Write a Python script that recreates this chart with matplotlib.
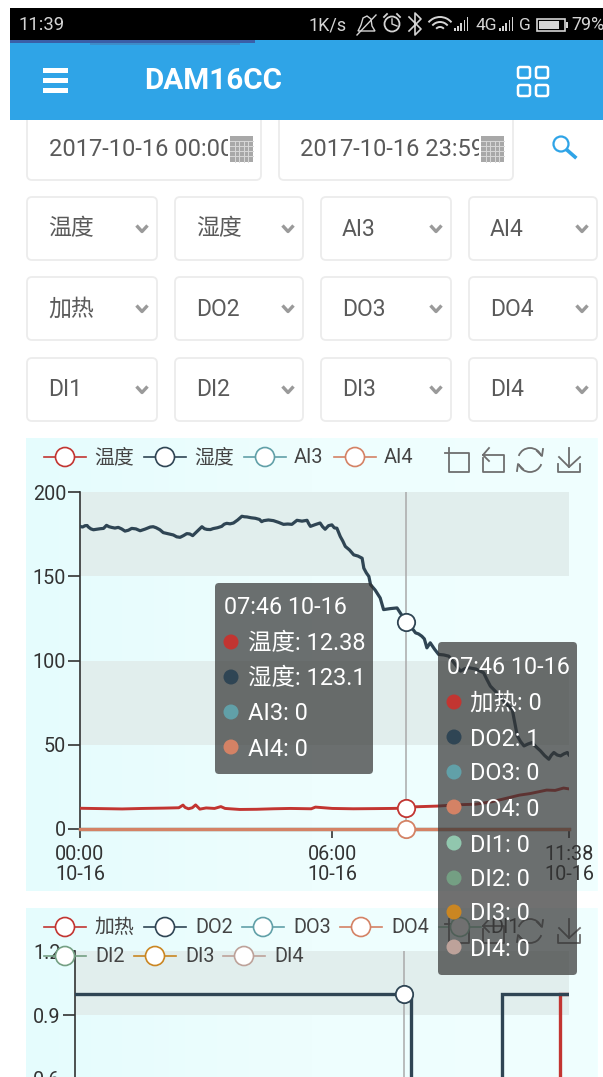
import matplotlib
matplotlib.use('Agg')
import matplotlib.pyplot as plt
import numpy as np
from matplotlib.patches import FancyBboxPatch, Rectangle, Circle, Arc, Polygon
from matplotlib.lines import Line2D
from matplotlib.colors import LinearSegmentedColormap

plt.rcParams['font.family'] = ['Roboto', 'Noto Sans CJK SC', 'DejaVu Sans']

# ---------- data ----------
hum_h = [0, .06, .12, .17, .2, .26, .32, .4, .48, .56, .63, .69, .75, .83, .91, .99, 1.07, 1.15, 1.23, 1.33, 1.43,
         1.55, 1.67, 1.74, 1.81, 1.9, 1.98, 2.1, 2.22, 2.3, 2.38, 2.46, 2.54, 2.61, 2.68, 2.8, 2.9, 2.96, 3.02, 3.1,
         3.17, 3.27, 3.37, 3.43, 3.49, 3.57, 3.65, 3.75, 3.85, 3.91, 3.97, 4.07, 4.17, 4.27, 4.32, 4.37, 4.48, 4.6,
         4.72, 4.84, 4.94, 5.04, 5.1, 5.16, 5.28, 5.4, 5.44, 5.48, 5.6, 5.71, 5.77, 5.83, 5.91, 5.99, 6.05, 6.11, 6.19,
         6.25, 6.31, 6.41, 6.51, 6.61, 6.71, 6.75, 6.81, 6.87, 6.91, 7.02, 7.14, 7.22, 7.38, 7.54, 7.65, 7.76, 7.87,
         7.98, 8.05, 8.13, 8.19, 8.25, 8.33, 8.43, 8.53, 8.65, 8.77, 8.91, 9.05, 9.15, 9.25, 9.42, 9.6, 9.68, 9.76,
         9.88, 10, 10.14, 10.28, 10.34, 10.4, 10.48, 10.56, 10.65, 10.75, 10.85, 10.95, 11.05, 11.15, 11.21, 11.27,
         11.35, 11.43, 11.51, 11.59, 11.63]
hum_v = [179.6, 179.2, 180, 180.1, 179.2, 178.1, 177.6, 177.9, 178.2, 178.4, 180.2, 179.4, 179, 178.6, 179, 178.1, 176.8,
         177.3, 178.4, 178.1, 177, 178, 179.2, 179.4, 178.8, 177.6, 175.9, 175.2, 174.5, 173.4, 173.1, 174.1, 175.3,
         175.1, 174.1, 177, 179.4, 178.2, 177.8, 177.7, 178.3, 178.8, 179.6, 180.9, 181.4, 181.1, 181.6, 183.4, 185.6,
         185.3, 185.2, 184.7, 184.4, 183.7, 182.4, 183, 183.4, 183, 182, 180.8, 181, 180.8, 182, 183.2, 182.7, 183.2,
         181.2, 179.6, 180.7, 181.6, 179.4, 177.9, 180, 180.5, 178.7, 178.5, 173.6, 170.9, 167.7, 165.6, 162.7, 162,
         160.7, 154.8, 152, 149.9, 145, 141.8, 137.1, 130.2, 130.8, 131.2, 127, 123.1, 120.1, 116.4, 115.8, 114.4,
         112.8, 107.5, 110.5, 106.8, 103.6, 103.3, 102.6, 98.2, 93.7, 95.1, 95.7, 94.9, 92.7, 88.6, 84.8, 81.7, 78,
         74.3, 71, 63, 55.2, 51.8, 49.3, 50.4, 51.3, 48.7, 46.4, 43.6, 41.4, 43.8, 45.4, 43.9, 43.4, 44.6, 45.4, 44]

tmp_h = [0, .5, 1, 1.5, 2, 2.35, 2.45, 2.5, 2.58, 2.67, 2.75, 2.85, 3, 3.2, 3.35, 3.45, 3.8, 4.2, 4.6, 5, 5.5, 5.6,
         6, 6.5, 7, 7.4, 7.76, 8, 8.5, 9, 9.4, 9.8, 10.1, 10.45, 10.7, 11.1, 11.3, 11.5, 11.63]
tmp_v = [12.3, 12.1, 11.9, 12.2, 12.4, 12.6, 14.2, 12.8, 12.0, 12.6, 14.3, 11.8, 12.5, 12.2, 13.3, 12.2, 11.6, 11.7,
         12.0, 12.2, 12.0, 13.0, 12.2, 12.0, 12.1, 12.2, 12.38, 13.2, 13.6, 14.4, 14.7, 16.2, 18.0, 20.1, 21.0, 23.1,
         22.9, 24.3, 23.8]
ai_h = [0, 11.63]
ai3_v = [0, 0]
ai4_v = [0, 0]

do2_h = [0, 7.92, 7.92, 10.05, 10.05, 11.63]
do2_v = [1, 1, 0, 0, 1, 1]
heat_h = [0, 11.43, 11.43, 11.63]
heat_v = [0, 0, 1, 1]

y1_ticks = [0, 50, 100, 150, 200]
y2_ticks = [0, 0.3, 0.6, 0.9, 1.2]
x1_ticks = [0, 6, 11.63]
x1_labels = ['00:00\n10-16', '06:00\n10-16', '11:38\n10-16']

cursor_h = 7.76
cursor_label = '07:46 10-16'
names_a = ['温度', '湿度', 'AI3', 'AI4']
vals_a = ['12.38', '123.1', '0', '0']
names_b = ['加热', 'DO2', 'DO3', 'DO4', 'DI1', 'DI2', 'DI3', 'DI4']
vals_b = ['0', '1', '0', '0', '0', '0', '0', '0']
colors = ['#c23531', '#2f4554', '#61a0a8', '#d48265', '#91c7ae', '#749f83', '#ca8622', '#bda29a']
select_rows = [['温度', '湿度', 'AI3', 'AI4'], ['加热', 'DO2', 'DO3', 'DO4'], ['DI1', 'DI2', 'DI3', 'DI4']]

# ---------- layout ----------
W, H = 603, 1077
fig = plt.figure(figsize=(W / 100, H / 100), dpi=100, facecolor='white')


def axes_px(x0, x1, ytop, ybot, z):
    return fig.add_axes([x0 / W, 1 - ybot / H, (x1 - x0) / W, (ybot - ytop) / H], zorder=z)


def pixel_axes(z):
    a = fig.add_axes([0, 0, 1, 1], zorder=z)
    a.set_xlim(0, W)
    a.set_ylim(H, 0)
    a.axis('off')
    return a


base = pixel_axes(0)
over = pixel_axes(5)
TXT = '#333333'
GREY = '#5a5a5a'


def rbox(x0, x1, y0, y1, r=5):
    base.add_patch(FancyBboxPatch((x0 + r, y0 + r), x1 - x0 - 2 * r, y1 - y0 - 2 * r,
                                  boxstyle=f'round,pad={r}', fc='white', ec='#ececec', lw=1.3))


# date boxes go first: the blue header covers their top edge
rbox(27, 261, 110, 180)
rbox(279, 513, 110, 180)

# ---------- app chrome ----------
SB = '#d4d4d4'
base.add_patch(Rectangle((10, 8), 593, 32, fc='black', ec='none'))
base.add_patch(Rectangle((10, 40), 593, 80, fc='#2fa4e7', ec='none'))
base.add_patch(Rectangle((10, 40), 245, 3, fc='#3a5ea8', ec='none'))
base.add_patch(Rectangle((90, 43), 150, 2, fc='#3f8cc8', ec='none'))
base.text(18, 25, '11:39', color=SB, fontsize=13.3, va='center')
base.text(308, 25.5, '1K/s', color=SB, fontsize=13, va='center')
# status icons
base.add_patch(Polygon([[358, 31], [361, 25], [363, 18], [367, 16], [371, 19], [372, 26], [375, 31]],
                       fc='none', ec=SB, lw=1))
base.add_line(Line2D([357, 376], [35, 15], color=SB, lw=1))
base.add_patch(Circle((392, 24), 7.5, fc='none', ec=SB, lw=1.3))
base.add_line(Line2D([392, 392, 397], [19, 24, 26], color=SB, lw=1))
base.add_line(Line2D([384, 387], [17, 14], color=SB, lw=1.3))
base.add_line(Line2D([400, 397], [17, 14], color=SB, lw=1.3))
base.add_line(Line2D([409, 421, 415, 415, 421, 409], [17, 29, 35, 13, 19, 31], color=SB, lw=1.2))
for r in (5, 10, 15):
    base.add_patch(Arc((440, 32), 2 * r, 2 * r, theta1=-140, theta2=-40, color=SB, lw=1.4))
for px0 in (454, 499):
    for i, hh in enumerate((3, 5, 8, 11, 14)):
        base.add_patch(Rectangle((px0 + i * 3.2, 31 - hh), 1.6, hh, fc=SB, ec='none'))
base.text(475, 25.5, '4G', color=SB, fontsize=12.5, va='center')
base.text(519, 25.5, 'G', color=SB, fontsize=12.5, va='center')
base.add_patch(Rectangle((537, 19), 28, 12, fc='none', ec=SB, lw=1.2))
base.add_patch(Rectangle((539, 21), 20, 8, fc=SB, ec='none'))
base.add_patch(Rectangle((565.5, 22), 2, 6, fc=SB, ec='none'))
base.text(571, 25, '79%', color=SB, fontsize=13, va='center')

for yy in (70, 80, 90):
    base.add_patch(Rectangle((43, yy - 2.5), 25, 5, fc='white', ec='none'))
base.text(144, 81, 'DAM16CC', color='white', fontsize=21.3, fontweight='bold', va='center')
for gx in (518, 536):
    for gy in (67, 85):
        base.add_patch(FancyBboxPatch((gx + 2, gy + 2), 8, 7, boxstyle='round,pad=2', fc='none', ec='white', lw=1.8))

for tx, lab, cx in ((49, '2017-10-16 00:00', 230), (300, '2017-10-16 23:59', 481)):
    t = base.text(tx, 149, lab, color=GREY, fontsize=17, va='center')
    t.set_clip_on(True)
    t.set_clip_path(Rectangle((tx, 130), cx - tx - 2, 35, transform=base.transData))
    base.add_patch(Rectangle((cx, 136), 23, 26, fc='#a8a8a8', ec='none'))
    for k in range(1, 5):
        base.add_line(Line2D([cx, cx + 23], [136 + k * 5, 136 + k * 5], color='#d8d8d8', lw=0.7))
        base.add_line(Line2D([cx + k * 4.6, cx + k * 4.6], [141, 162], color='#d8d8d8', lw=0.7))
base.add_patch(Circle((561, 144), 7.5, fc='none', ec='#2fa4e7', lw=1.6))
base.add_line(Line2D([567, 575], [150, 157], color='#2fa4e7', lw=2.6))

col_x = [(27, 157), (175, 303), (321, 451), (469, 597)]
row_y = [(197, 260), (277, 340), (358, 421)]
for (y0, y1), row in zip(row_y, select_rows):
    for (x0, x1), lab in zip(col_x, row):
        rbox(x0, x1, y0, y1)
        ym = (y0 + y1) / 2
        base.text(x0 + 21, ym + 0.5, lab, color=GREY, fontsize=16.5, va='center')
        base.add_line(Line2D([x1 - 20.5, x1 - 15, x1 - 9.5], [ym - 3, ym + 3, ym - 3], color='#9a9a9a', lw=2.4,
                             solid_capstyle='butt'))

# pale cyan chart panels, slightly stronger to the left
panel_cmap = LinearSegmentedColormap.from_list('panel', ['#e5fcfd', '#eefefe', '#f0ffff'])
grad = np.linspace(0, 1, 256).reshape(1, -1)
for y0, y1 in ((438, 891), (908, 1077)):
    base.imshow(grad, cmap=panel_cmap, extent=(26, 598, y1, y0), aspect='auto', zorder=0.5)
base.set_xlim(0, W)
base.set_ylim(H, 0)

# ---------- chart 1 ----------
ax1 = axes_px(80, 569, 492, 829, 1)
ax1.patch.set_alpha(0)
ax1.set_xlim(0, 11.63)
ax1.set_ylim(0, 200)
for lo, hi in ((150, 200), (50, 100)):
    ax1.axhspan(lo, hi, fc='#e1eeed', ec='none', zorder=0)
ax1.axvline(cursor_h, color='#aaaaaa', lw=1.1, zorder=1)
ax1.plot(ai_h, ai3_v, color=colors[2], lw=2.4, zorder=2, clip_on=False)
ax1.plot(ai_h, ai4_v, color=colors[3], lw=2.4, zorder=3, clip_on=False)
ax1.plot(tmp_h, tmp_v, color=colors[0], lw=2.1, zorder=3)
ax1.plot(hum_h, hum_v, color=colors[1], lw=2.3, zorder=3)
ms = dict(marker='o', ms=12.5, mfc='white', mew=1.3, clip_on=False, zorder=6, ls='none')
ax1.plot([cursor_h], [12.38], mec=colors[0], **ms)
ax1.plot([cursor_h], [123.1], mec=colors[1], **ms)
ax1.plot([cursor_h], [0], mec=colors[3], **ms)
ax1.set_yticks(y1_ticks)
ax1.set_xticks(x1_ticks)
ax1.set_xticklabels(x1_labels, linespacing=1.05)
ax1.tick_params(axis='y', length=8.5, width=1.2, color='#333333', labelsize=14.2, labelcolor=TXT, pad=1.5)
ax1.tick_params(axis='x', length=6.5, width=1.2, color='#333333', labelsize=14.3, labelcolor=TXT, pad=5)
for s in ('top', 'right'):
    ax1.spines[s].set_visible(False)
for s in ('left', 'bottom'):
    ax1.spines[s].set_color('#333333')
    ax1.spines[s].set_linewidth(1.2)

# ---------- chart 2 (runs past the bottom edge of the screenshot) ----------
ax2 = axes_px(74.5, 569, 951, 1207, 1)
ax2.patch.set_alpha(0)
ax2.set_xlim(0, 11.63)
ax2.set_ylim(0, 1.2)
for lo, hi in ((0.9, 1.2), (0.3, 0.6)):
    ax2.axhspan(lo, hi, fc='#e1eeed', ec='none', zorder=0)
ax2.axvline(cursor_h, color='#aaaaaa', lw=1.1, zorder=1)
ax2.plot(heat_h, heat_v, color=colors[0], lw=2.4, zorder=2, solid_joinstyle='miter')
ax2.plot(do2_h, do2_v, color=colors[1], lw=2.4, zorder=3, solid_joinstyle='miter')
ax2.plot([cursor_h], [1], mec=colors[1], **ms)
ax2.set_yticks(y2_ticks)
ax2.set_yticklabels([f'{v:.1f}' for v in y2_ticks])
ax2.set_xticks([])
ax2.tick_params(axis='y', length=8.5, width=1.2, color='#333333', labelsize=14.2, labelcolor=TXT, pad=1.5)
for s in ('top', 'right', 'bottom'):
    ax2.spines[s].set_visible(False)
ax2.spines['left'].set_color('#333333')
ax2.spines['left'].set_linewidth(1.2)


# ---------- legends ----------
def legend_item(cx, y, color, label, tx):
    over.add_line(Line2D([cx - 21, cx + 21], [y, y], color=color, lw=1.2, zorder=2))
    over.add_patch(Circle((cx, y), 9.5, fc='white', ec=color, lw=1.2, zorder=3))
    over.text(tx, y + 0.5, label, color='#444444', fontsize=14.3, va='center', zorder=3)


for cx, tx, c, n in zip((65, 165, 265, 355), (94, 194, 294, 384), colors, names_a):
    legend_item(cx, 457, c, n, tx)
row2 = ((65, 94, 0, 927), (165, 195, 1, 927), (263, 293, 2, 927), (361, 391, 3, 927), (460, 490, 4, 927),
        (65, 95, 5, 956), (155, 185, 6, 956), (244, 274, 7, 956))
for cx, tx, i, yy in row2:
    legend_item(cx, yy, colors[i], names_b[i], tx)


# ---------- toolbox ----------
def toolbox(y):
    c = '#6e6e6e'
    kw = dict(color=c, lw=1.3, zorder=2)
    # y is the top of the icons
    over.add_line(Line2D([445, 469, 469, 449, 449], [y + 5, y + 5, y + 24, y + 24, y], **kw))
    over.add_line(Line2D([483, 504, 504, 483, 483], [y + 7, y + 7, y + 24, y + 24, y + 10], **kw))
    over.add_line(Line2D([489, 483, 489], [y, y + 7, y + 13], **kw))
    over.add_patch(Arc((530, y + 12), 24, 24, theta1=200, theta2=340, color=c, lw=1.3, zorder=2))
    over.add_patch(Arc((530, y + 12), 24, 24, theta1=20, theta2=160, color=c, lw=1.3, zorder=2))
    over.add_line(Line2D([537, 542, 543], [y + 3, y + 8, y + 1], **kw))
    over.add_line(Line2D([523, 518, 517], [y + 21, y + 16, y + 23], **kw))
    over.add_line(Line2D([569, 569], [y, y + 19], **kw))
    over.add_line(Line2D([559, 569, 580], [y + 9, y + 19, y + 9], **kw))
    over.add_line(Line2D([558, 558, 580, 580], [y + 16, y + 24, y + 24, y + 16], **kw))


toolbox(448)
toolbox(919)


# ---------- tooltips ----------
def tooltip(x0, x1, y0, y1, title_x, title_y, dot_x, text_x, ys, names, vals, cols):
    over.add_patch(FancyBboxPatch((x0 + 4, y0 + 4), x1 - x0 - 8, y1 - y0 - 8, boxstyle='round,pad=4',
                                  fc=(0.2, 0.2, 0.2, 0.7), ec='none', zorder=10))
    over.text(title_x, title_y + 2, cursor_label, color='white', fontsize=16.8, va='center', zorder=11)
    for yy, n, v, c in zip(ys, names, vals, cols):
        over.add_patch(Circle((dot_x, yy), 7.5, fc=c, ec='none', zorder=11))
        over.text(text_x, yy + 2, f'{n}: {v}', color='white', fontsize=16.9, va='center', zorder=11)


tooltip(215, 373, 583, 774, 224, 606, 231, 248, (642, 677, 712, 747), names_a, vals_a, colors)
tooltip(438, 577, 642, 975, 447, 666, 454, 470, (702, 737, 772, 807, 843, 878, 912, 947), names_b, vals_b, colors)

fig.savefig('out.png', dpi=100, facecolor='white')
